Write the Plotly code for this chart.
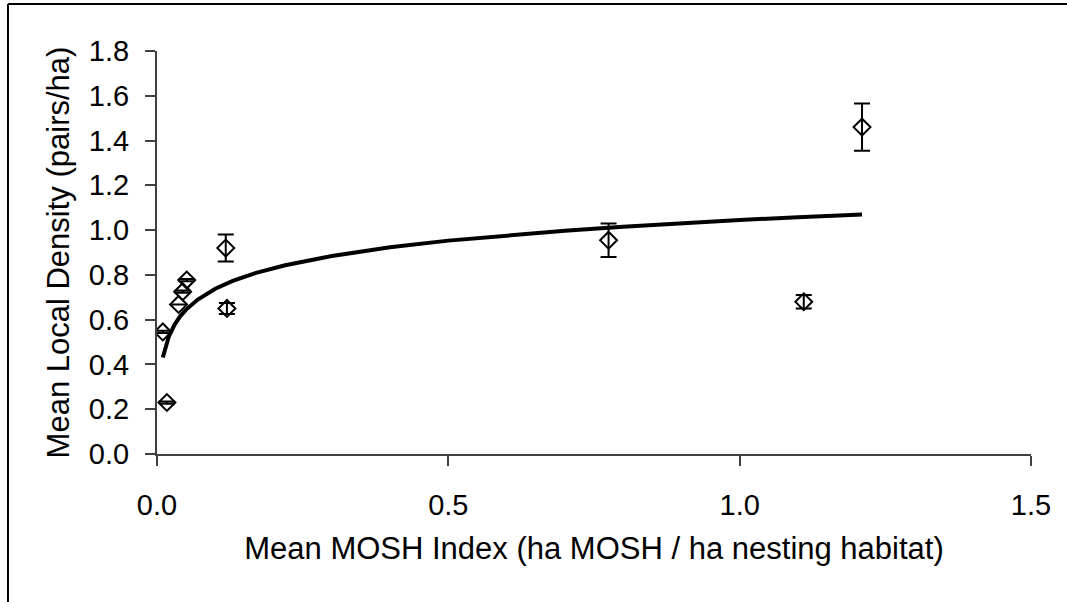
import plotly.graph_objects as go

# Observed site means with standard errors
mosh_index = [0.010, 0.017, 0.037, 0.044, 0.051, 0.118, 0.120, 0.775, 1.110, 1.210]
local_density = [0.545, 0.230, 0.668, 0.725, 0.777, 0.920, 0.650, 0.955, 0.680, 1.460]
density_se = [0.005, 0.005, 0.0, 0.005, 0.005, 0.060, 0.025, 0.075, 0.030, 0.105]

# Fitted trend line
fit_x = [0.01, 0.015, 0.02, 0.03, 0.04, 0.05, 0.07, 0.10, 0.13, 0.17, 0.22, 0.30,
         0.40, 0.50, 0.60, 0.70, 0.80, 0.90, 1.00, 1.10, 1.21]
fit_y = [0.431, 0.485, 0.523, 0.577, 0.616, 0.645, 0.690, 0.738, 0.773, 0.809, 0.843,
         0.884, 0.923, 0.953, 0.977, 0.997, 1.015, 1.031, 1.045, 1.058, 1.070]

x_ticks = [0.0, 0.5, 1.0, 1.5]
y_ticks = [0.0, 0.2, 0.4, 0.6, 0.8, 1.0, 1.2, 1.4, 1.6, 1.8]

FONT = "Liberation Sans, Arial, sans-serif"

fig = go.Figure()

fig.add_trace(go.Scatter(
    x=fit_x, y=fit_y, mode="lines",
    line=dict(color="black", width=4),
    showlegend=False, hoverinfo="skip",
))

fig.add_trace(go.Scatter(
    x=mosh_index, y=local_density, mode="markers",
    marker=dict(symbol="diamond-open", size=13, color="black", line=dict(width=2)),
    error_y=dict(type="data", array=density_se, visible=True,
                 color="black", thickness=2, width=8),
    showlegend=False,
))

fig.update_layout(
    width=1067, height=602,
    margin=dict(l=157, r=36, t=51, b=148),
    paper_bgcolor="white", plot_bgcolor="white",
    font=dict(family=FONT, color="black"),
    xaxis=dict(
        range=[0, 1.5], tickvals=x_ticks, ticktext=[f"{v:.1f}" for v in x_ticks],
        showgrid=False, zeroline=False, showline=True, linecolor="#404040", linewidth=2,
        ticks="outside", ticklen=10, tickwidth=2, tickcolor="#404040",
        tickfont=dict(size=29), ticklabelstandoff=14,
        title=dict(text="Mean MOSH Index (ha MOSH / ha nesting habitat)",
                   font=dict(size=31), standoff=18),
    ),
    yaxis=dict(
        range=[0, 1.8], tickvals=y_ticks, ticktext=[f"{v:.1f}" for v in y_ticks],
        showgrid=False, zeroline=False, showline=True, linecolor="#404040", linewidth=2,
        ticks="outside", ticklen=10, tickwidth=2, tickcolor="#404040",
        tickfont=dict(size=29), ticklabelstandoff=10,
        title=dict(text="Mean Local Density (pairs/ha)", font=dict(size=31), standoff=10),
    ),
    shapes=[
        dict(type="line", xref="paper", yref="paper", x0=-0.1705, x1=-0.1705,
             y0=-0.37, y1=1.1166, line=dict(color="black", width=2)),
        dict(type="line", xref="paper", yref="paper", x0=-0.1705, x1=1.05,
             y0=1.1166, y1=1.1166, line=dict(color="black", width=2)),
    ],
)

fig.write_html("out.html")
